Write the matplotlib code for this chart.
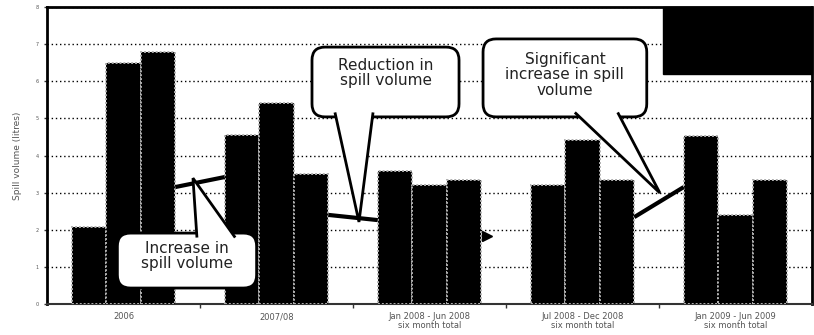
import matplotlib
matplotlib.use("Agg")
import matplotlib.pyplot as plt
import numpy as np
from matplotlib.patches import FancyBboxPatch, Polygon

plt.rcParams['font.family'] = ['DejaVu Sans']

# Periods on the x axis and the three spill series per period
periods = ["2006", "2007/08", "Jan 2008 - Jun 2008\nsix month total",
           "Jul 2008 - Dec 2008\nsix month total", "Jan 2009 - Jun 2009\nsix month total"]
series_a = [2.07, 4.55, 3.58, 3.20, 4.53]
series_b = [6.50, 5.42, 3.20, 4.42, 2.40]
series_c = [6.80, 3.50, 3.34, 3.34, 3.34]
series_names = ["Minor spills", "Moderate spills", "Major spills"]

# Trend segments between neighbouring periods (start value, end value)
trend_start = [3.15, 2.40, 1.83, 2.34]
trend_end = [3.42, 2.26, 1.83, 3.15]

y_ticks = [0, 1, 2, 3, 4, 5, 6, 7, 8]

fig = plt.figure(figsize=(8.14, 3.35), dpi=100)
ax = fig.add_axes([47 / 814, 31 / 335, 765 / 814, 297 / 335])

x = np.arange(len(periods))
w = 0.2255
for off, vals, name in zip([-w, 0, w], [series_a, series_b, series_c], series_names):
    ax.bar(x + off, vals, width=w, color="black", edgecolor="#b0b0b0",
           linewidth=1.4, linestyle=(0, (1, 1)), zorder=3, label=name)

# trend line pieces visible in the gaps between period groups
for i, (s, e) in enumerate(zip(trend_start, trend_end)):
    x0 = i + 1.5 * w
    x1 = i + 1 - 1.5 * w
    if s == e:
        ax.plot([x0 + 0.04], [s], marker=">", color="black", markersize=7, zorder=4)
    else:
        ax.plot([x0, x1], [s, e], color="black", lw=3, zorder=4, solid_capstyle="butt")

ax.set_xlim(-0.5, 4.5)
ax.set_ylim(0, 8)
ax.set_yticks(y_ticks)
ax.set_yticklabels([str(v) for v in y_ticks], fontsize=3.5, color="#555555")
ax.set_xticks(x)
ax.set_xticklabels(periods, fontsize=6, color="#555555", linespacing=0.9)
ax.set_xticks(np.arange(0.5, 4.5, 1), minor=True)
ax.tick_params(axis="x", which="major", length=0, pad=6)
ax.tick_params(axis="x", which="minor", length=3, width=1, color="#333333")
ax.tick_params(axis="y", length=2, width=1, color="#333333", pad=4)
ax.set_ylabel("Spill volume (litres)", fontsize=6.5, color="#555555", labelpad=10)

ax.yaxis.grid(True, color="black", linestyle=(0, (1, 2)), linewidth=1, zorder=1)
ax.set_axisbelow(True)
for side in ["left", "top", "right"]:
    ax.spines[side].set_linestyle((0, (1, 1)))
    ax.spines[side].set_linewidth(2)
ax.spines["bottom"].set_color("#333333")
ax.spines["bottom"].set_linewidth(1.5)

leg = ax.legend(loc="upper left", bbox_to_anchor=(0.805, 0.771, 0.195, 0.229),
                mode="expand", borderaxespad=0, fontsize=8, labelspacing=1.05,
                borderpad=0.6, fancybox=False, framealpha=1, facecolor="black",
                edgecolor="black", handlelength=1.2)
for t in leg.get_texts():
    t.set_color("black")
for h in leg.legend_handles:
    h.set_edgecolor("black")
    h.set_facecolor("black")
leg.set_zorder(6)

# speech-bubble callouts
aspect = 153 / 37.125
def callout(text, box, base, tip, text_y):
    x0, x1, y0, y1 = box
    bub = FancyBboxPatch((x0, y0), x1 - x0, y1 - y0,
                         boxstyle="round,pad=0,rounding_size=0.085",
                         mutation_aspect=aspect, fc="white", ec="black",
                         lw=2, zorder=7)
    ax.add_patch(bub)
    inside = y1 - 0.12 if abs(base[2] - y1) < abs(base[2] - y0) else y0 + 0.12
    pts = [(base[0], inside), tip, (base[1], inside)]
    ax.add_patch(Polygon(pts, closed=False, fc="white", ec="black", lw=2,
                         zorder=8, joinstyle="miter"))
    ax.text((x0 + x1) / 2, text_y, text, ha="center", va="center",
            fontsize=11, color="#222222", zorder=9, linespacing=1.05)

callout("Increase in\nspill volume", (-0.04, 0.87, 0.43, 1.91),
        (0.48, 0.73, 1.91), (0.454, 3.39), 1.29)
callout("Reduction in\nspill volume", (1.232, 2.193, 5.04, 6.92),
        (1.382, 1.631, 5.04), (1.539, 2.21), 6.22)
callout("Significant\nincrease in spill\nvolume", (2.35, 3.42, 5.04, 7.14),
        (2.95, 3.23, 5.04), (3.506, 2.99), 6.17)

fig.savefig("out.png", dpi=100)
